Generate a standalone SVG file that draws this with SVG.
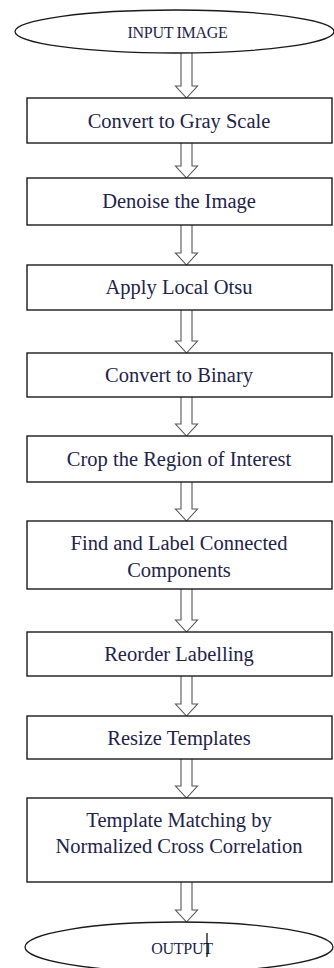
<svg xmlns="http://www.w3.org/2000/svg" width="334" height="968" viewBox="0 0 334 968">
<defs>
<style>
.box{fill:#fff;stroke:#1a1a1a;stroke-width:1.4}
.ell{fill:#fff;stroke:#1a1a1a;stroke-width:1.3}
.t{font-family:"Liberation Serif","Times New Roman",serif;font-size:20.5px;fill:#23234a;text-anchor:middle}
.ts{font-family:"Liberation Serif","Times New Roman",serif;font-size:16px;fill:#23234a;text-anchor:middle;letter-spacing:-0.3px}
.arr{fill:#fff;stroke:#555;stroke-width:1.1;stroke-linejoin:miter}
</style>
</defs>
<rect width="334" height="968" fill="#fff"/>
<g id="connectors">
<path class="arr" d="M181,53 V86 H175.5 L186.5,98 L197.5,86 H192 V53"/>
<path class="arr" d="M181,143 V166 H175.5 L186.5,178 L197.5,166 H192 V143"/>
<path class="arr" d="M181,225 V253 H175.5 L186.5,265 L197.5,253 H192 V225"/>
<path class="arr" d="M181,310 V341 H175.5 L186.5,353 L197.5,341 H192 V310"/>
<path class="arr" d="M181,397 V424 H175.5 L186.5,436 L197.5,424 H192 V397"/>
<path class="arr" d="M181,482 V509 H175.5 L186.5,521 L197.5,509 H192 V482"/>
<path class="arr" d="M181,589 V620 H175.5 L186.5,632 L197.5,620 H192 V589"/>
<path class="arr" d="M181,676 V704 H175.5 L186.5,716 L197.5,704 H192 V676"/>
<path class="arr" d="M181,759 V786 H175.5 L186.5,798 L197.5,786 H192 V759"/>
<path class="arr" d="M181,882 V910 H175.5 L186.5,922 L197.5,910 H192 V882"/>
</g>
<g id="input">
<ellipse class="ell" cx="174.5" cy="31.5" rx="159.5" ry="21.5"/>
<text class="ts" x="177.5" y="38">INPUT IMAGE</text>
</g>
<g id="gray">
<rect class="box" x="27" y="98" width="305" height="45"/>
<text class="t" x="179" y="128">Convert to Gray Scale</text>
</g>
<g id="denoise">
<rect class="box" x="27" y="178" width="305" height="47"/>
<text class="t" x="179" y="208">Denoise the Image</text>
</g>
<g id="otsu">
<rect class="box" x="27" y="265" width="305" height="45"/>
<text class="t" x="179" y="294">Apply Local Otsu</text>
</g>
<g id="binary">
<rect class="box" x="27" y="353" width="305" height="44"/>
<text class="t" x="179" y="382">Convert to Binary</text>
</g>
<g id="crop">
<rect class="box" x="27" y="436" width="305" height="46"/>
<text class="t" x="179" y="466">Crop the Region of Interest</text>
</g>
<g id="label">
<rect class="box" x="27" y="521" width="305" height="68"/>
<text class="t" x="179" y="550">Find and Label Connected</text>
<text class="t" x="179" y="577">Components</text>
</g>
<g id="reorder">
<rect class="box" x="27" y="632" width="305" height="44"/>
<text class="t" x="179" y="661">Reorder Labelling</text>
</g>
<g id="resize">
<rect class="box" x="27" y="716" width="305" height="43"/>
<text class="t" x="179" y="745">Resize Templates</text>
</g>
<g id="match">
<rect class="box" x="27" y="798" width="305" height="84"/>
<text class="t" x="179" y="827">Template Matching by</text>
<text class="t" x="179" y="853">Normalized Cross Correlation</text>
</g>
<g id="output">
<ellipse class="ell" cx="179" cy="947" rx="154" ry="25"/>
<text class="ts" x="182" y="954">OUTPUT</text>
<line x1="207" y1="933" x2="207" y2="957" stroke="#000" stroke-width="1.2"/>
</g>
</svg>
